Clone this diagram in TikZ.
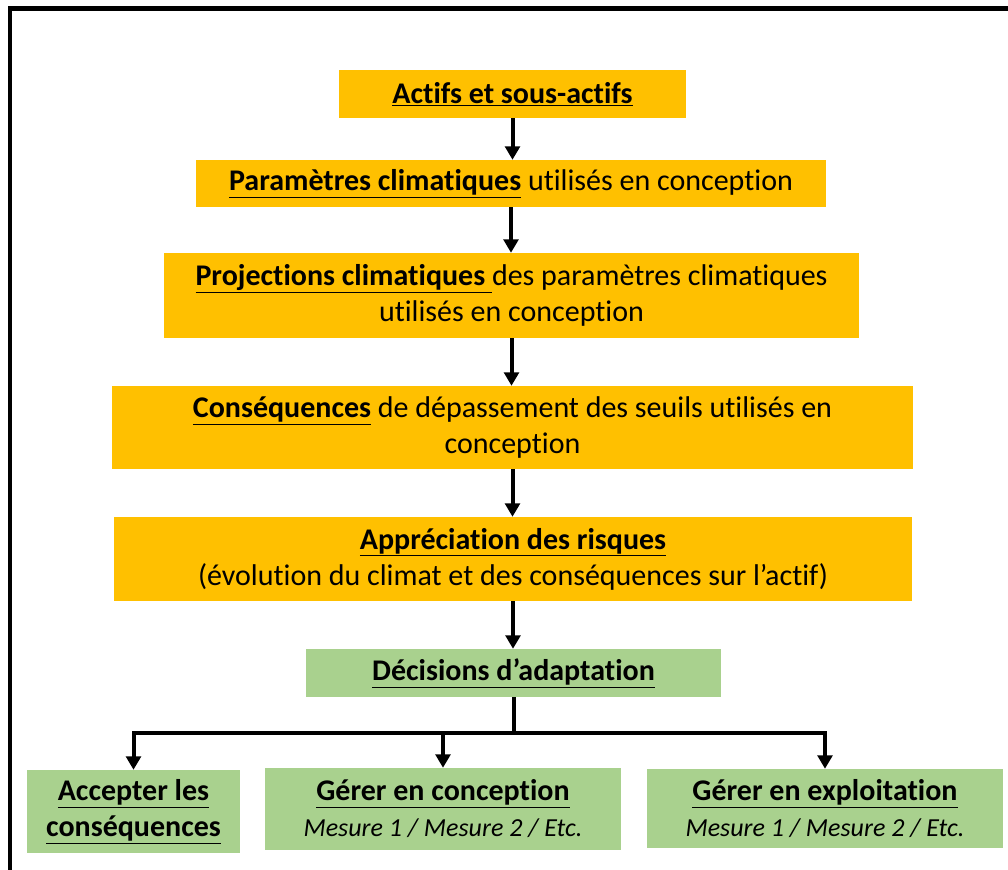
\documentclass[tikz,border=0pt]{standalone}
\usepackage{fontspec}
\setmainfont{Carlito}[Ligatures=NoCommon]
\usetikzlibrary{arrows.meta}

\definecolor{orangebox}{HTML}{FFC000}
\definecolor{greenbox}{HTML}{A9D18E}

\tikzset{
  stepbox/.style={fill=orangebox, inner sep=0pt, align=center, font=\fontsize{22.5}{27}\selectfont},
  choicebox/.style={fill=greenbox, inner sep=0pt, align=center, font=\fontsize{22.5}{27}\selectfont},
  flow/.style={-{Triangle[length=10pt,width=11pt]}, line width=3pt},
  link/.style={line width=3pt},
}
\newcommand{\keyword}[1]{\textbf{\underline{#1}}}
\newcommand{\measures}{{\fontsize{19.5}{22}\selectfont\itshape Mesure 1 / Mesure 2 / Etc.}}

\begin{document}
\begin{tikzpicture}[x=0.75pt, y=-0.75pt]
    \useasboundingbox (0,0) rectangle (1008,869);
    \clip (0,0) rectangle (1008,869);
    % Frame
    \draw[line width=3.5pt] (10,8.5) rectangle (1030,900);

    % Chain of steps
    \node[stepbox, minimum width=260pt, minimum height=36pt] (actifs) at (512.5,94) {\keyword{Actifs et sous-actifs}};
    \node[stepbox, minimum width=472.5pt, minimum height=35.25pt] (param) at (511,183.5) {\keyword{Paramètres climatiques} utilisés en conception};
    \node[stepbox, minimum width=521.25pt, minimum height=63.75pt] (proj) at (511.5,295.5) {\keyword{Projections climatiques\ }des paramètres climatiques\\utilisés en conception};
    \node[stepbox, minimum width=600.75pt, minimum height=62.25pt] (cons) at (512.5,427.5) {\keyword{Conséquences} de dépassement des seuils utilisés en\\conception};
    \node[stepbox, minimum width=598.5pt, minimum height=63pt] (appr) at (513,559) {\keyword{Appréciation des risques}\\(évolution du climat et des conséquences sur l’actif)};
    \node[choicebox, minimum width=311.25pt, minimum height=36pt] (decis) at (513.5,673) {\keyword{Décisions d’adaptation}};

    % Choices
    \node[choicebox, minimum width=159.75pt, minimum height=62.25pt] (accept) at (133.5,811.5) {\keyword{Accepter les}\\\keyword{conséquences}};
    \node[choicebox, minimum width=267pt, minimum height=61.5pt] (gconc) at (443,809) {\keyword{Gérer en conception}\\\measures};
    \node[choicebox, minimum width=267pt, minimum height=59.25pt] (gexpl) at (825,808.5) {\keyword{Gérer en exploitation}\\\measures};

    % Arrows
    \draw[flow] (actifs.south) -- (actifs.south |- param.north);
    \draw[flow] (param.south) -- (param.south |- proj.north);
    \draw[flow] (proj.south) -- (proj.south |- cons.north);
    \draw[flow] (cons.south) -- (cons.south |- appr.north);
    \draw[flow] (appr.south) -- (appr.south |- decis.north);

    % Branching
    \coordinate (split) at (513.5,733);
    \draw[link] (decis.south) -- (split);
    \draw[link, line cap=rect] (split -| accept) -- (split -| gexpl);
    \draw[flow] (split -| accept) -- (accept.north);
    \draw[flow] (split -| gconc) -- (gconc.north);
    \draw[flow] (split -| gexpl) -- (gexpl.north);
\end{tikzpicture}
\end{document}
